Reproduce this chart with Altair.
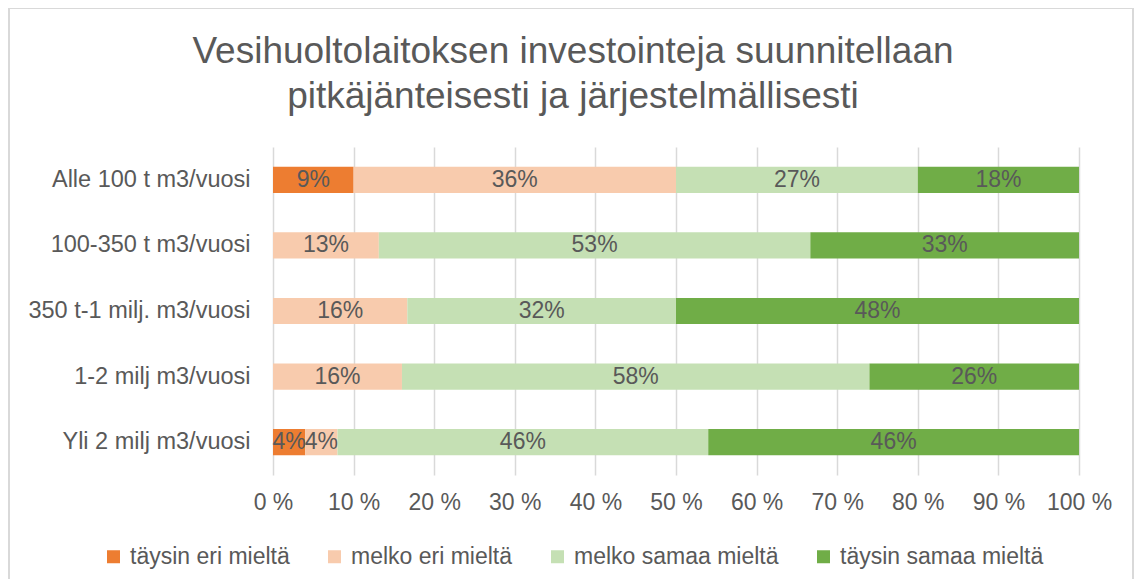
import altair as alt
import pandas as pd

categories = ["Alle 100 t m3/vuosi", "100-350 t m3/vuosi", "350 t-1 milj. m3/vuosi",
              "1-2 milj m3/vuosi", "Yli 2 milj m3/vuosi"]
series = ["täysin eri mieltä", "melko eri mieltä", "melko samaa mieltä", "täysin samaa mieltä"]
colors = ["#ED7D31", "#F8CBAD", "#C5E0B4", "#70AD47"]

taysin_eri = [9, 0, 0, 0, 4]
melko_eri = [36, 13, 16, 16, 4]
melko_samaa = [27, 53, 32, 58, 46]
taysin_samaa = [18, 33, 48, 26, 46]

tick_values = [0, 0.1, 0.2, 0.3, 0.4, 0.5, 0.6, 0.7, 0.8, 0.9, 1.0]

title_lines = ["Vesihuoltolaitoksen investointeja suunnitellaan",
               "pitkäjänteisesti ja järjestelmällisesti"]

rows = []
for s_i, (s, vals) in enumerate(zip(series, [taysin_eri, melko_eri, melko_samaa, taysin_samaa])):
    for c, v in zip(categories, vals):
        if v > 0:
            rows.append({"cat": c, "series": s, "order": s_i, "value": v})
df = pd.DataFrame(rows)

FONT = "Liberation Sans"
GREY = "#595959"
FS = 23

x_axis = alt.Axis(title=None, values=tick_values,
                  labelExpr="round(datum.value*100) + ' %'",
                  grid=True, gridColor="#d9d9d9", gridWidth=1.5,
                  domain=False, ticks=False, labelFontSize=FS, labelColor=GREY,
                  labelPadding=16, labelFont=FONT, labelOverlap=False,
                  labelFlush=False, labelBound=False)
y_axis = alt.Axis(title=None, domain=False, ticks=False, grid=False,
                  labelPadding=23, labelFontSize=23.5, labelColor=GREY, labelFont=FONT,
                  labelLimit=0)
y_enc = alt.Y("cat:N", sort=categories,
              scale=alt.Scale(paddingInner=0.6, paddingOuter=0.3), axis=y_axis)

base = alt.Chart(df).transform_joinaggregate(
    total="sum(value)", groupby=["cat"]
).transform_window(
    cum="sum(value)", sort=[alt.SortField("order")], groupby=["cat"], frame=[None, 0]
).transform_calculate(
    start="(datum.cum - datum.value) / datum.total",
    end="datum.cum / datum.total",
    mid="(datum.cum - datum.value / 2) / datum.total",
    label="datum.value + '%'"
)

bars = base.mark_bar().encode(
    x=alt.X("start:Q", scale=alt.Scale(domain=[0, 1], nice=False, zero=True), axis=x_axis),
    x2="end:Q",
    y=y_enc,
    color=alt.Color("series:N", sort=series,
                    scale=alt.Scale(domain=series, range=colors),
                    legend=alt.Legend(orient="none", legendX=-171, legendY=398,
                                      direction="horizontal", title=None,
                                      symbolType="square", symbolSize=169,
                                      symbolStrokeWidth=0, symbolOpacity=1,
                                      labelFontSize=FS, labelColor=GREY, labelFont=FONT,
                                      labelOffset=5, columnPadding=33, padding=0,
                                      labelLimit=0)),
    order=alt.Order("order:Q"),
)

texts = base.mark_text(fontSize=FS, color=GREY, font=FONT).encode(
    x=alt.X("mid:Q", axis=x_axis),
    y=y_enc,
    text="label:N",
)

border = alt.Chart(pd.DataFrame({"a": [0]})).mark_rect(
    fillOpacity=0, stroke="#d9d9d9", strokeWidth=2
).encode(
    x=alt.value(-264), x2=alt.value(860), y=alt.value(-139), y2=alt.value(800)
)

title1 = alt.Chart(pd.DataFrame({"t": [title_lines[0]]})).mark_text(
    fontSize=37, color=GREY, font=FONT, align="center", baseline="alphabetic"
).encode(x=alt.value(300), y=alt.value(-84), text="t:N")
title2 = alt.Chart(pd.DataFrame({"t": [title_lines[1]]})).mark_text(
    fontSize=37, color=GREY, font=FONT, align="center", baseline="alphabetic"
).encode(x=alt.value(300), y=alt.value(-39), text="t:N")

chart = alt.layer(border, bars, texts, title1, title2).properties(
    width=806, height=328,
    padding={"left": 265, "top": 139, "right": 55, "bottom": 104},
    autosize=alt.AutoSizeParams(type="none"),
).configure(font=FONT).configure_view(stroke=None)

chart.save("out.html", embed_options={"renderer": "svg", "actions": False})
